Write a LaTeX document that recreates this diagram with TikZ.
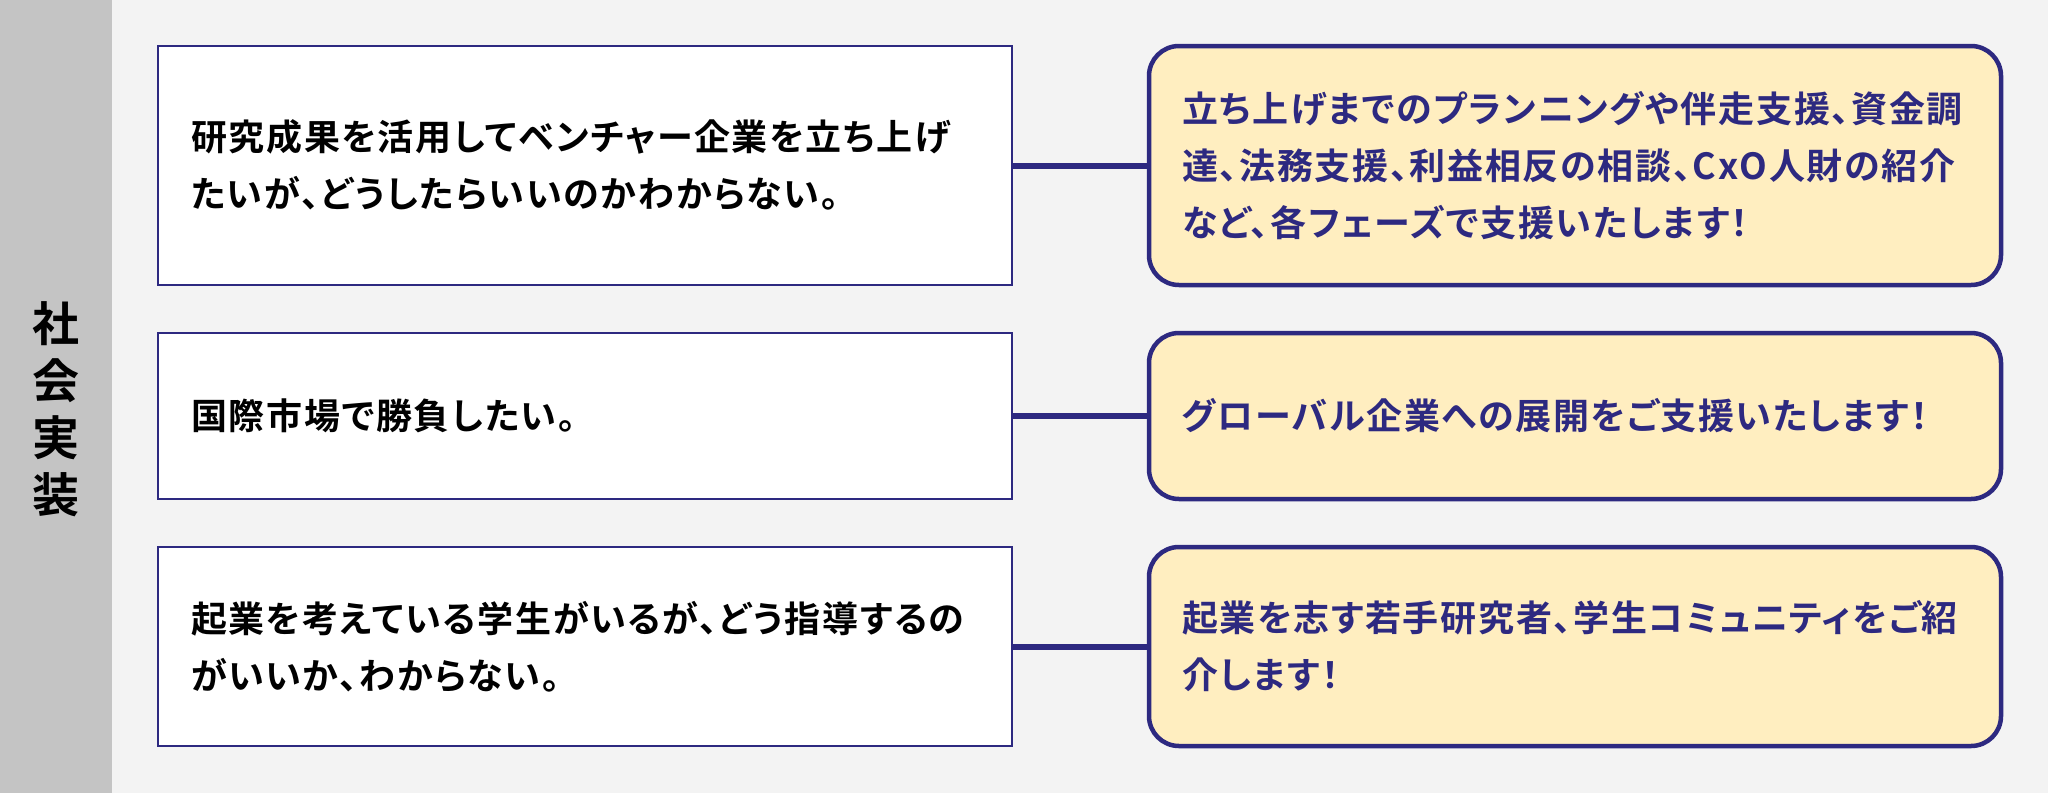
\documentclass[tikz,border=0pt]{standalone}
\usepackage{fontspec}
\newfontfamily\jpfont[UprightFont=* Bold,RawFeature=+palt]{Noto Sans CJK JP}
\newfontfamily\jptext[UprightFont=* Bold,RawFeature=+palt,LetterSpace=4.7]{Noto Sans CJK JP}
\definecolor{navy}{RGB}{45,41,128}
\definecolor{cream}{RGB}{255,238,192}
\definecolor{paper}{RGB}{243,243,243}
\definecolor{sidebar}{RGB}{196,196,196}
\tikzset{
  ask/.style={draw=navy,line width=2.5pt,fill=white,inner xsep=33pt,text width=788pt,
    minimum width=854pt,align=left,font=\jptext\fontsize{36}{57}\selectfont,text=black},
  answer/.style={draw=navy,line width=4.5pt,fill=cream,rounded corners=30pt,inner xsep=33pt,
    text width=786pt,minimum width=852pt,align=left,font=\jptext\fontsize{36}{57}\selectfont,text=navy},
  link/.style={draw=navy,line width=6pt}
}
\begin{document}
\begin{tikzpicture}[x=1pt,y=-1pt]
      \fill[paper] (0,0) rectangle (2048,793);
      \fill[sidebar] (0,0) rectangle (112,793);
      \draw
        (56,409) node[align=center,font=\jpfont\fontsize{47}{57}\selectfont] (label){社\\会\\実\\装}
        (585,165.5) node[ask,minimum height=239pt] (q1){研究成果を活用してベンチャー企業を立ち上げ\\たいが、どうしたらいいのかわからない。}
        (585,416) node[ask,minimum height=166pt] (q2){国際市場で勝負したい。}
        (585,646.5) node[ask,minimum height=199pt] (q3){起業を考えている学生がいるが、どう指導するの\\がいいか、わからない。}
        (1575,165.5) node[answer,minimum height=239pt] (a1){立ち上げまでのプランニングや伴走支援、資金調\\達、法務支援、利益相反の相談、CxO人財の紹介\\など、各フェーズで支援いたします！}
        (1575,416) node[answer,minimum height=166pt] (a2){グローバル企業への展開をご支援いたします！}
        (1575,646.5) node[answer,minimum height=199pt] (a3){起業を志す若手研究者、学生コミュニティをご紹\\介します！};
      \begin{scope}[link]
        \draw (q1) to (a1);
        \draw (q2) to (a2);
        \draw (q3) to (a3);
      \end{scope}
    \end{tikzpicture}
\end{document}
